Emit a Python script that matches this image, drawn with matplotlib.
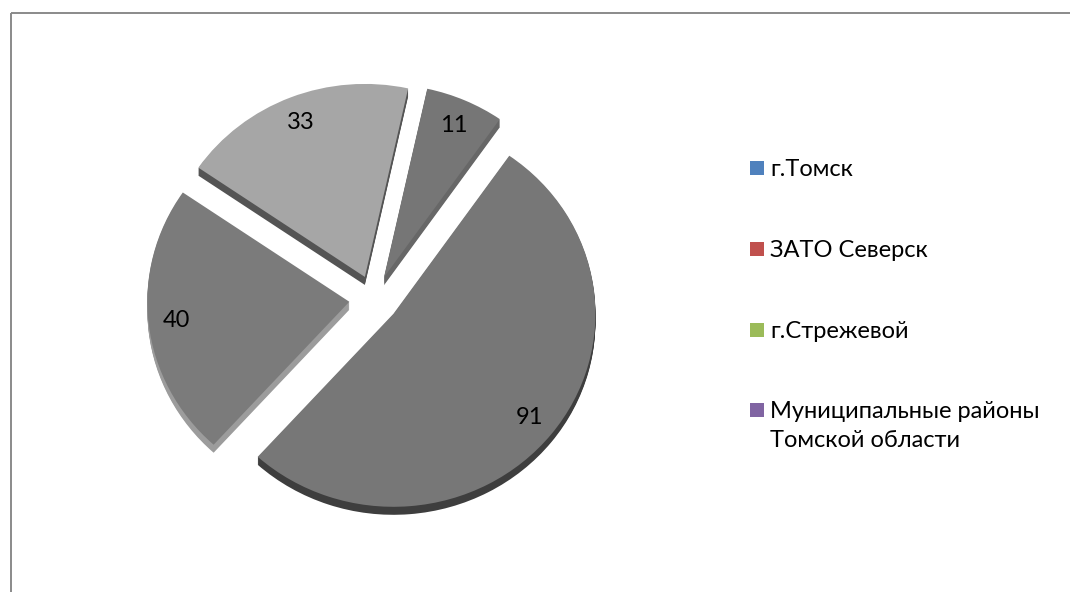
import matplotlib
matplotlib.use('Agg')
import matplotlib.pyplot as plt
from matplotlib.patches import Wedge, Rectangle

# Data
categories = ['г.Томск', 'ЗАТО Северск', 'г.Стрежевой',
              'Муниципальные районы\nТомской области']
values = [91, 40, 33, 11]

# Styling
face_colors = ['#777777', '#7b7b7b', '#a6a6a6', '#767676']
side_colors = ['#3e3e3e', '#9c9c9c', '#545454', '#676767']
legend_colors = ['#4F81BD', '#C0504D', '#9BBB59', '#8064A2']

W, H = 1070, 592
RX, RY = 202.0, 193.0          # pixel radii of the tilted pie
CX, CY = 374.0, 299.0          # pie centre in pixels (from top-left)
DEPTH = 8                      # thickness of the pie in pixels
FS = 17

plt.rcParams['font.family'] = ['Lato', 'DejaVu Sans']
fig = plt.figure(figsize=(W / 100, H / 100), dpi=100, facecolor='white')

ax = fig.add_axes([0, 0, 1, 1])
total = sum(values)
wedges, texts, autotexts = ax.pie(
    values, startangle=55, counterclock=False, explode=[0.123] * len(values),
    radius=1, colors=face_colors,
    autopct=lambda p: f'{p * total / 100:.0f}', pctdistance=0.86,
    wedgeprops=dict(linewidth=0),
    textprops=dict(fontsize=FS, color='black'))

# extrude each wedge downwards to give the pie some thickness
for w, sc in zip(wedges, side_colors):
    w.set_zorder(2)
    for k in range(1, DEPTH + 1):
        side = Wedge((w.center[0], w.center[1] - k / RY), w.r, w.theta1, w.theta2,
                     facecolor=sc, linewidth=0, zorder=1)
        ax.add_patch(side)
for t in autotexts:
    t.set_zorder(3)

ax.set_aspect('auto')
ax.set_xlim(-CX / RX, (W - CX) / RX)
ax.set_ylim(-(H - CY) / RY, CY / RY)
ax.axis('off')

# overlay in pixel coordinates for the frame and the legend
ov = fig.add_axes([0, 0, 1, 1])
ov.set_xlim(0, W)
ov.set_ylim(H, 0)
ov.axis('off')
ov.patch.set_alpha(0)

ov.plot([10.5, 10.5], [H, 12.5], color='#8a8a8a', lw=1.4, solid_capstyle='butt')
ov.plot([10.5, W], [12.5, 12.5], color='#8a8a8a', lw=1.4, solid_capstyle='butt')

row_y = [168, 248.5, 330, 409.5]
line_step = 29
for y, lab, col in zip(row_y, categories, legend_colors):
    ov.add_patch(Rectangle((750, y - 7), 14, 14, facecolor=col, linewidth=0))
    for i, line in enumerate(lab.split('\n')):
        ov.text(770, y + 8.5 + i * line_step, line, fontsize=FS,
                va='baseline', ha='left', color='black')

fig.savefig('out.png', dpi=100, facecolor='white')
